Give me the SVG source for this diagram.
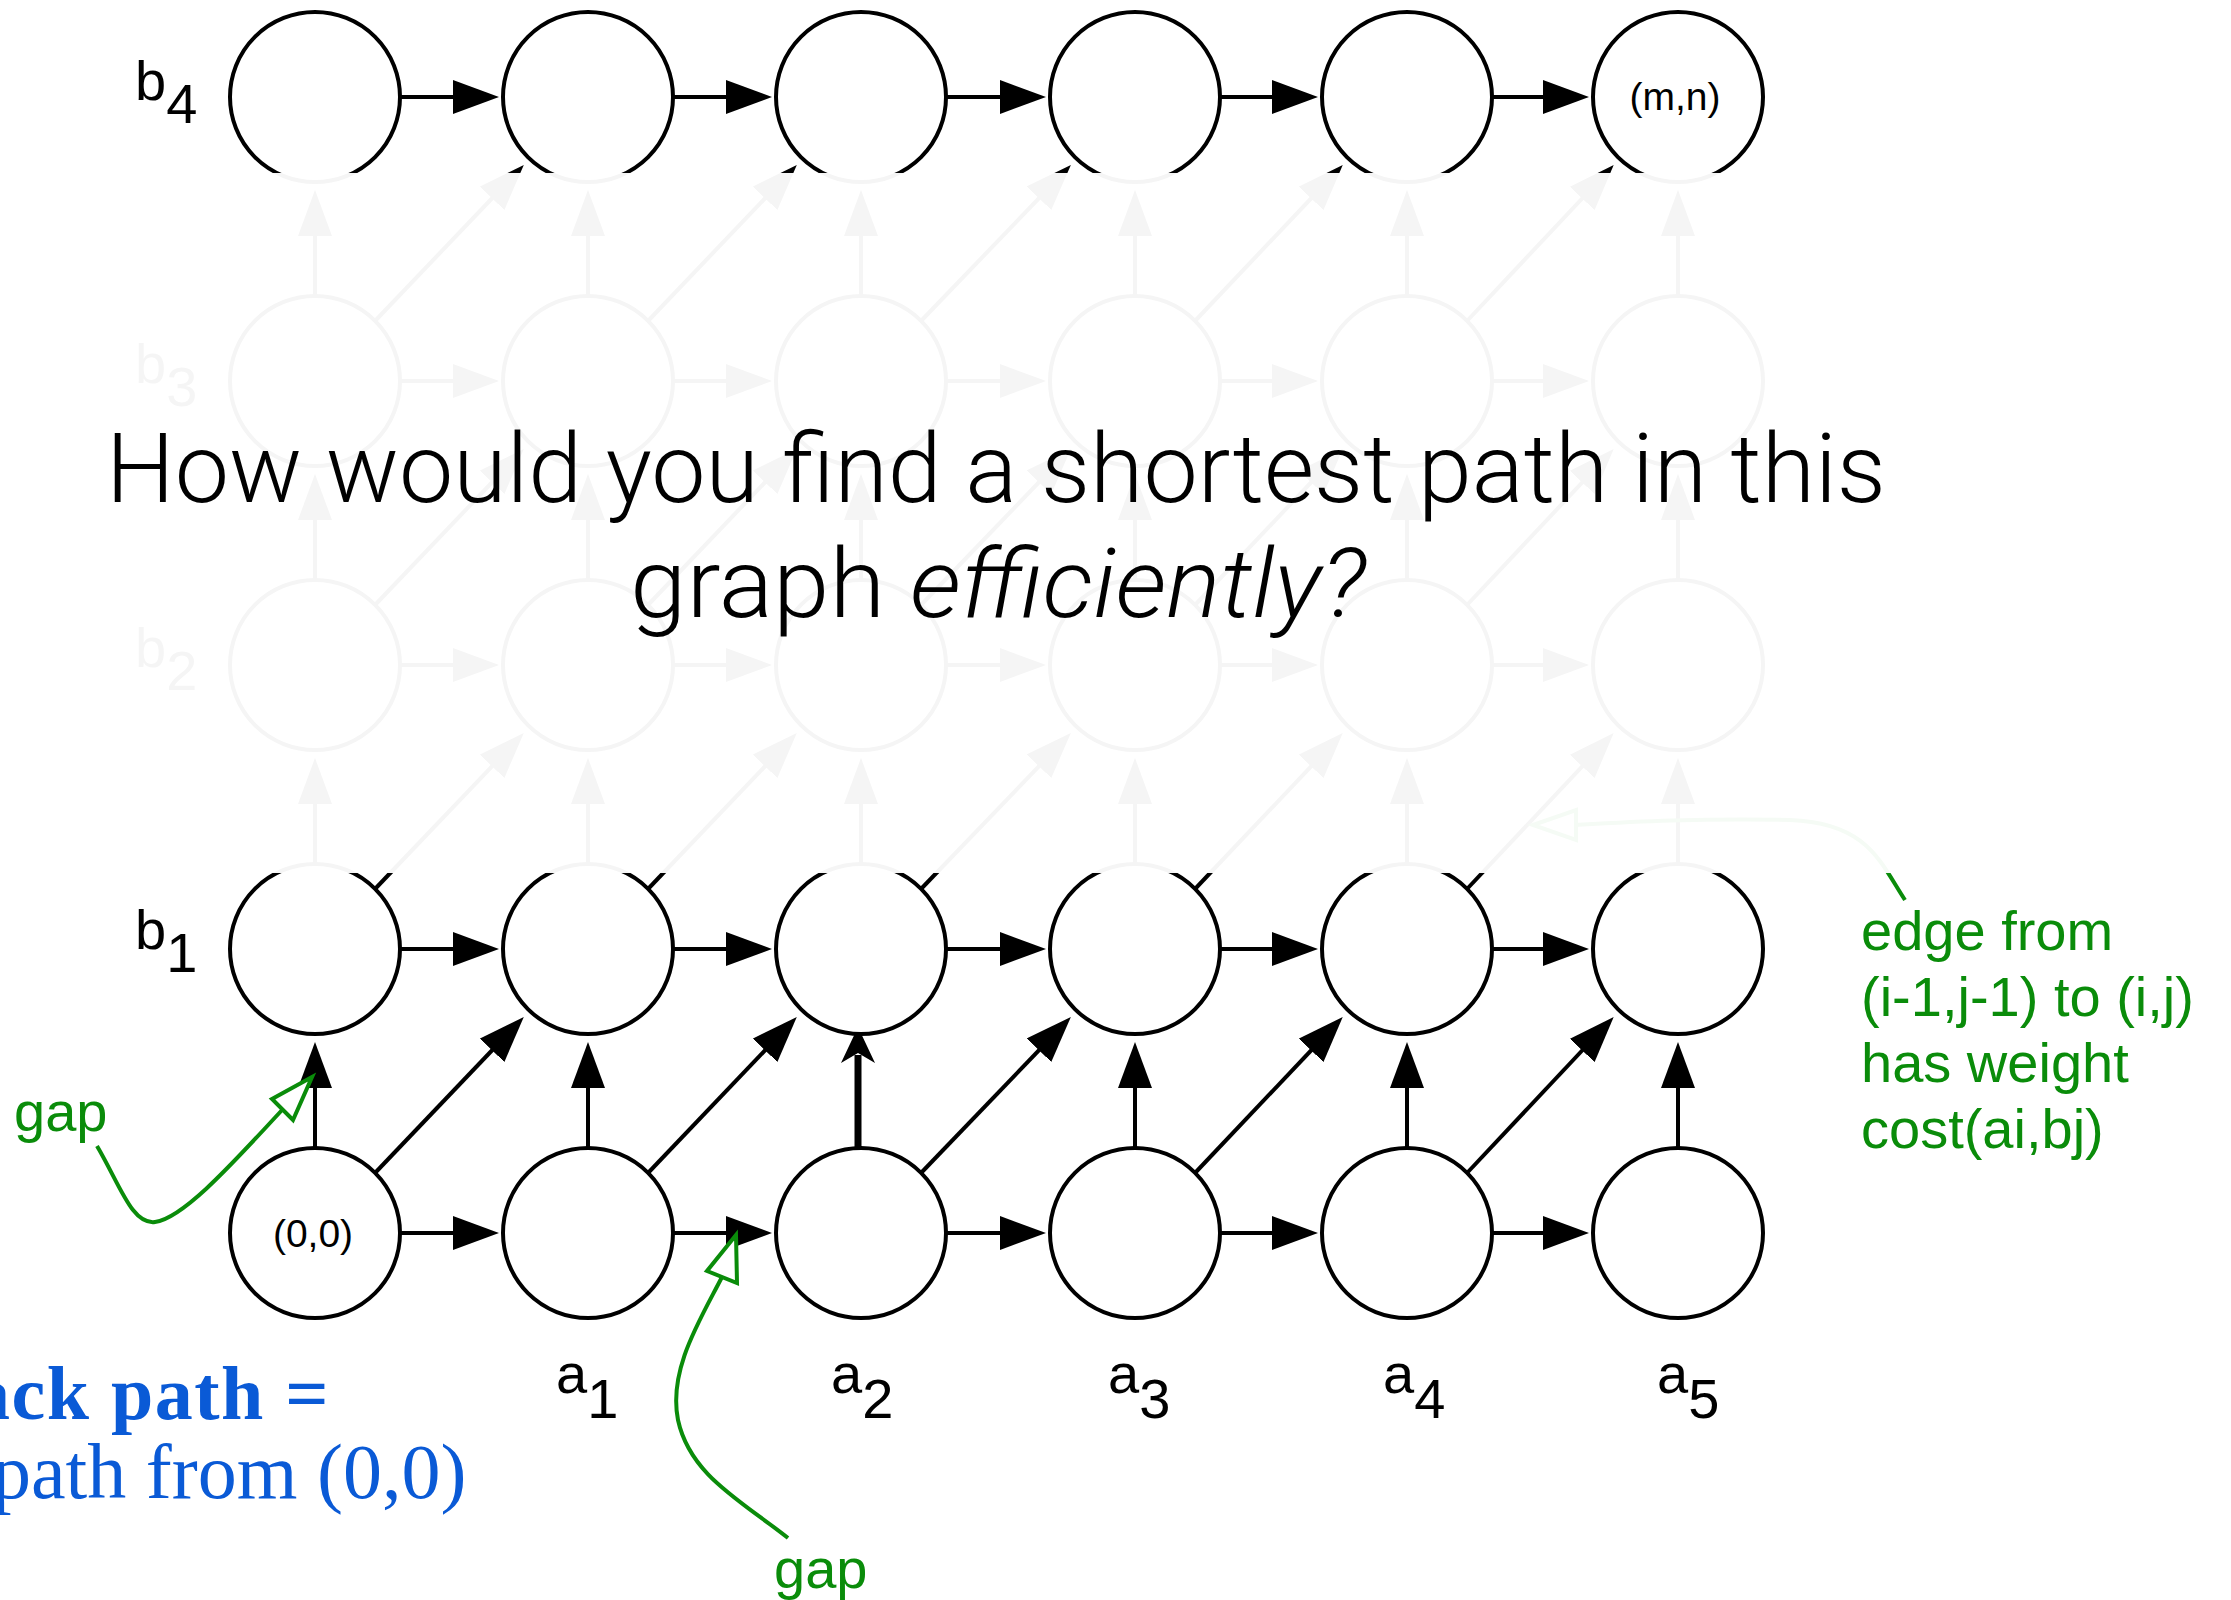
<svg xmlns="http://www.w3.org/2000/svg" width="2231" height="1600" viewBox="0 0 2231 1600">
<defs>
<marker id="ah" markerUnits="userSpaceOnUse" markerWidth="46" markerHeight="34" viewBox="0 0 46 34" refX="26" refY="17" orient="auto"><path d="M0,0 L46,17 L0,34 z" fill="#000"/></marker>
<marker id="ahThick" markerUnits="userSpaceOnUse" markerWidth="36" markerHeight="34" viewBox="0 0 36 34" refX="8" refY="17" orient="auto"><path d="M0,0 L36,17 L0,34 L10,17 z" fill="#000"/></marker>
<style>
.node{fill:#fff;stroke:#000;stroke-width:4}
.e{stroke:#000;stroke-width:4;fill:none;marker-end:url(#ah)}
.thick{stroke:#000;stroke-width:7;fill:none;marker-end:url(#ahThick)}
.lbl{font-family:"Liberation Sans",Arial,sans-serif;font-size:56px;fill:#000}
.nl{font-family:"Liberation Sans",Arial,sans-serif;font-size:39px;fill:#000;text-anchor:middle}
.gr{font-family:"Liberation Sans",Arial,sans-serif;font-size:56px;fill:#0a8c0a}
.gline{stroke:#0a8c0a;stroke-width:4;fill:none}
.ghead{stroke:#0a8c0a;stroke-width:4;fill:#fff;stroke-linejoin:miter}
.title{font-family:Roboto,"Liberation Sans",Arial,sans-serif;font-weight:300;font-size:96px;fill:#000;text-anchor:middle}
.blue{font-family:"Liberation Serif","Times New Roman",serif;fill:#0a5ad6}
</style>
</defs>
<rect width="2231" height="1600" fill="#fff"/>

<g id="connectors">
<g id="h-row0">
<line class="e" x1="400" y1="1233" x2="479" y2="1233"/>
<line class="e" x1="673" y1="1233" x2="752" y2="1233"/>
<line class="e" x1="946" y1="1233" x2="1026" y2="1233"/>
<line class="e" x1="1220" y1="1233" x2="1298" y2="1233"/>
<line class="e" x1="1492" y1="1233" x2="1569" y2="1233"/>
</g>
<g id="h-row1">
<line class="e" x1="400" y1="949" x2="479" y2="949"/>
<line class="e" x1="673" y1="949" x2="752" y2="949"/>
<line class="e" x1="946" y1="949" x2="1026" y2="949"/>
<line class="e" x1="1220" y1="949" x2="1298" y2="949"/>
<line class="e" x1="1492" y1="949" x2="1569" y2="949"/>
</g>
<g id="h-row2">
<line class="e" x1="400" y1="665" x2="479" y2="665"/>
<line class="e" x1="673" y1="665" x2="752" y2="665"/>
<line class="e" x1="946" y1="665" x2="1026" y2="665"/>
<line class="e" x1="1220" y1="665" x2="1298" y2="665"/>
<line class="e" x1="1492" y1="665" x2="1569" y2="665"/>
</g>
<g id="h-row3">
<line class="e" x1="400" y1="381" x2="479" y2="381"/>
<line class="e" x1="673" y1="381" x2="752" y2="381"/>
<line class="e" x1="946" y1="381" x2="1026" y2="381"/>
<line class="e" x1="1220" y1="381" x2="1298" y2="381"/>
<line class="e" x1="1492" y1="381" x2="1569" y2="381"/>
</g>
<g id="h-row4">
<line class="e" x1="400" y1="97" x2="479" y2="97"/>
<line class="e" x1="673" y1="97" x2="752" y2="97"/>
<line class="e" x1="946" y1="97" x2="1026" y2="97"/>
<line class="e" x1="1220" y1="97" x2="1298" y2="97"/>
<line class="e" x1="1492" y1="97" x2="1569" y2="97"/>
</g>
<g id="v-edges">
<line class="e" x1="315" y1="1148" x2="315" y2="1062"/>
<line class="e" x1="588" y1="1148" x2="588" y2="1062"/>
<line class="thick" x1="858" y1="1153" x2="858" y2="1055"/>
<line class="e" x1="1135" y1="1148" x2="1135" y2="1062"/>
<line class="e" x1="1407" y1="1148" x2="1407" y2="1062"/>
<line class="e" x1="1678" y1="1148" x2="1678" y2="1062"/>

<line class="e" x1="315" y1="864" x2="315" y2="778"/>
<line class="e" x1="588" y1="864" x2="588" y2="778"/>
<line class="e" x1="861" y1="864" x2="861" y2="778"/>
<line class="e" x1="1135" y1="864" x2="1135" y2="778"/>
<line class="e" x1="1407" y1="864" x2="1407" y2="778"/>
<line class="e" x1="1678" y1="864" x2="1678" y2="778"/>

<line class="e" x1="315" y1="580" x2="315" y2="494"/>
<line class="e" x1="588" y1="580" x2="588" y2="494"/>
<line class="e" x1="861" y1="580" x2="861" y2="494"/>
<line class="e" x1="1135" y1="580" x2="1135" y2="494"/>
<line class="e" x1="1407" y1="580" x2="1407" y2="494"/>
<line class="e" x1="1678" y1="580" x2="1678" y2="494"/>

<line class="e" x1="315" y1="296" x2="315" y2="210"/>
<line class="e" x1="588" y1="296" x2="588" y2="210"/>
<line class="e" x1="861" y1="296" x2="861" y2="210"/>
<line class="e" x1="1135" y1="296" x2="1135" y2="210"/>
<line class="e" x1="1407" y1="296" x2="1407" y2="210"/>
<line class="e" x1="1678" y1="296" x2="1678" y2="210"/>
</g>
<g id="d-edges">
<line class="e" x1="375" y1="1173" x2="510" y2="1031.5"/>
<line class="e" x1="648" y1="1173" x2="783" y2="1031.5"/>
<line class="e" x1="921" y1="1173" x2="1057" y2="1031.5"/>
<line class="e" x1="1195" y1="1173" x2="1329" y2="1031.5"/>
<line class="e" x1="1467" y1="1173" x2="1600" y2="1031.5"/>

<line class="e" x1="375" y1="889" x2="510" y2="747.5"/>
<line class="e" x1="648" y1="889" x2="783" y2="747.5"/>
<line class="e" x1="921" y1="889" x2="1057" y2="747.5"/>
<line class="e" x1="1195" y1="889" x2="1329" y2="747.5"/>
<line class="e" x1="1467" y1="889" x2="1600" y2="747.5"/>

<line class="e" x1="375" y1="605" x2="510" y2="463.5"/>
<line class="e" x1="648" y1="605" x2="783" y2="463.5"/>
<line class="e" x1="921" y1="605" x2="1057" y2="463.5"/>
<line class="e" x1="1195" y1="605" x2="1329" y2="463.5"/>
<line class="e" x1="1467" y1="605" x2="1600" y2="463.5"/>

<line class="e" x1="375" y1="321" x2="510" y2="179.5"/>
<line class="e" x1="648" y1="321" x2="783" y2="179.5"/>
<line class="e" x1="921" y1="321" x2="1057" y2="179.5"/>
<line class="e" x1="1195" y1="321" x2="1329" y2="179.5"/>
<line class="e" x1="1467" y1="321" x2="1600" y2="179.5"/>
</g>
</g>

<g id="n-0-0"><circle class="node" cx="315" cy="1233" r="85"/><text class="nl" x="313" y="1247">(0,0)</text></g>
<g id="n-1-0"><circle class="node" cx="588" cy="1233" r="85"/></g>
<g id="n-2-0"><circle class="node" cx="861" cy="1233" r="85"/></g>
<g id="n-3-0"><circle class="node" cx="1135" cy="1233" r="85"/></g>
<g id="n-4-0"><circle class="node" cx="1407" cy="1233" r="85"/></g>
<g id="n-5-0"><circle class="node" cx="1678" cy="1233" r="85"/></g>

<g id="n-0-1"><circle class="node" cx="315" cy="949" r="85"/></g>
<g id="n-1-1"><circle class="node" cx="588" cy="949" r="85"/></g>
<g id="n-2-1"><circle class="node" cx="861" cy="949" r="85"/></g>
<g id="n-3-1"><circle class="node" cx="1135" cy="949" r="85"/></g>
<g id="n-4-1"><circle class="node" cx="1407" cy="949" r="85"/></g>
<g id="n-5-1"><circle class="node" cx="1678" cy="949" r="85"/></g>

<g id="n-0-2"><circle class="node" cx="315" cy="665" r="85"/></g>
<g id="n-1-2"><circle class="node" cx="588" cy="665" r="85"/></g>
<g id="n-2-2"><circle class="node" cx="861" cy="665" r="85"/></g>
<g id="n-3-2"><circle class="node" cx="1135" cy="665" r="85"/></g>
<g id="n-4-2"><circle class="node" cx="1407" cy="665" r="85"/></g>
<g id="n-5-2"><circle class="node" cx="1678" cy="665" r="85"/></g>

<g id="n-0-3"><circle class="node" cx="315" cy="381" r="85"/></g>
<g id="n-1-3"><circle class="node" cx="588" cy="381" r="85"/></g>
<g id="n-2-3"><circle class="node" cx="861" cy="381" r="85"/></g>
<g id="n-3-3"><circle class="node" cx="1135" cy="381" r="85"/></g>
<g id="n-4-3"><circle class="node" cx="1407" cy="381" r="85"/></g>
<g id="n-5-3"><circle class="node" cx="1678" cy="381" r="85"/></g>

<g id="n-0-4"><circle class="node" cx="315" cy="97" r="85"/></g>
<g id="n-1-4"><circle class="node" cx="588" cy="97" r="85"/></g>
<g id="n-2-4"><circle class="node" cx="861" cy="97" r="85"/></g>
<g id="n-3-4"><circle class="node" cx="1135" cy="97" r="85"/></g>
<g id="n-4-4"><circle class="node" cx="1407" cy="97" r="85"/></g>
<g id="n-5-4"><circle class="node" cx="1678" cy="97" r="85"/><text class="nl" x="1675" y="110">(m,n)</text></g>

<g id="labels">
<text class="lbl" x="135" y="100">b<tspan dy="23">4</tspan></text>
<text class="lbl" x="135" y="383">b<tspan dy="23">3</tspan></text>
<text class="lbl" x="135" y="667">b<tspan dy="23">2</tspan></text>
<text class="lbl" x="135" y="949">b<tspan dy="23">1</tspan></text>
<text class="lbl" x="556" y="1393">a<tspan dy="25">1</tspan></text>
<text class="lbl" x="831" y="1393">a<tspan dy="25">2</tspan></text>
<text class="lbl" x="1108" y="1393">a<tspan dy="25">3</tspan></text>
<text class="lbl" x="1383" y="1393">a<tspan dy="25">4</tspan></text>
<text class="lbl" x="1657" y="1393">a<tspan dy="25">5</tspan></text>
</g>

<g id="note-diag">
<path class="gline" d="M1905,900 C1880,862 1868,823 1790,820 C1700,818 1630,822 1576,825"/>
<polygon class="ghead" points="1533,825 1576,810 1576,840"/>
<text class="gr" x="1861" y="950">edge from</text>
<text class="gr" x="1861" y="1016">(i-1,j-1) to (i,j)</text>
<text class="gr" x="1861" y="1082">has weight</text>
<text class="gr" x="1861" y="1148">cost(ai,bj)</text>
</g>
<g id="note-gap1">
<path class="gline" d="M97,1146 C120,1185 132,1225 155,1222 C185,1218 240,1155 283,1109"/>
<polygon class="ghead" points="312,1077 272,1099 293,1120"/>
<text class="gr" x="14" y="1131">gap</text>
</g>
<g id="note-gap2">
<path class="gline" d="M788,1538 C740,1500 690,1475 678,1420 C668,1370 700,1320 722,1277"/>
<polygon class="ghead" points="736,1235 707,1271 737,1283"/>
<text class="gr" x="774" y="1588">gap</text>
</g>

<rect id="fade" x="0" y="173" width="2231" height="700" fill="#fff" fill-opacity="0.962"/>

<g id="title">
<text class="title" x="996" y="502" textLength="1780" lengthAdjust="spacingAndGlyphs">How would you find a shortest path in this</text>
<text class="title" x="998" y="617" textLength="736" lengthAdjust="spacingAndGlyphs">graph <tspan font-style="italic">efficiently?</tspan></text>
</g>

<g id="note-blue">
<text class="blue" x="-28" y="1419" font-size="76" font-weight="bold" letter-spacing="1.5">ack path =</text>
<text class="blue" x="-8" y="1498" font-size="78">path from (0,0)</text>
</g>
</svg>
